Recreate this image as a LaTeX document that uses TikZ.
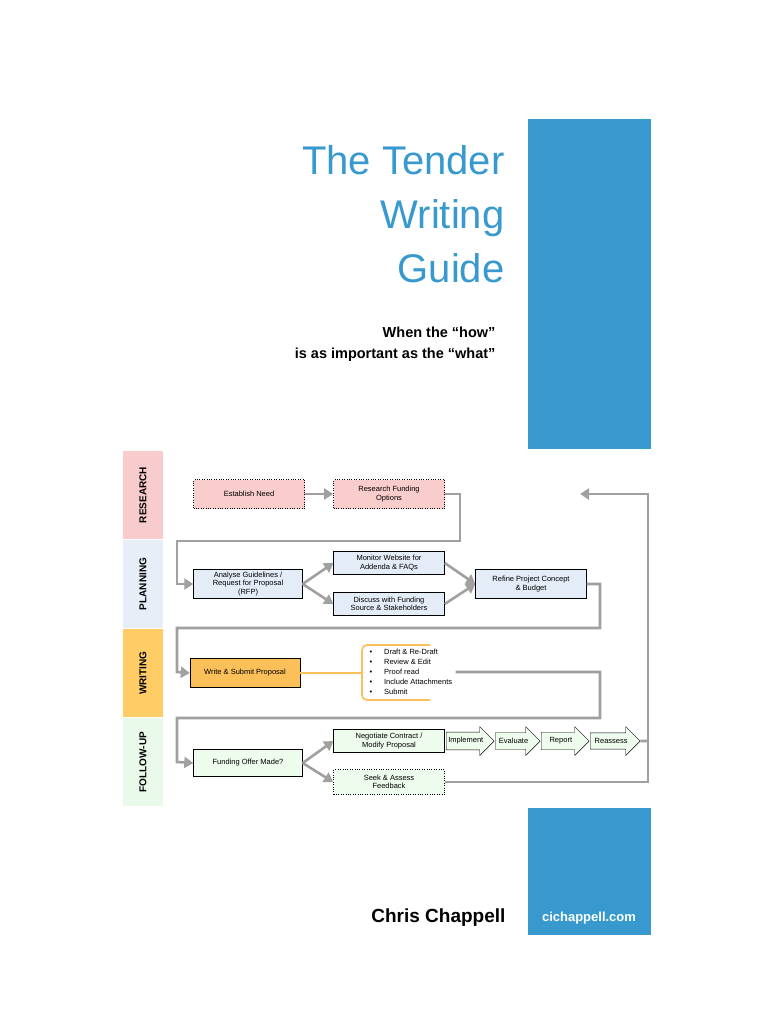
\documentclass[tikz,border=0pt]{standalone}
\usepackage{fontspec}
\setmainfont{Liberation Sans}
\usetikzlibrary{arrows.meta,shapes.arrows,positioning}
\definecolor{coverblue}{RGB}{55,153,206}
\definecolor{lanepink}{RGB}{248,204,204}
\definecolor{laneblue}{RGB}{231,238,248}
\definecolor{laneorange}{RGB}{255,204,102}
\definecolor{lanegreen}{RGB}{234,250,234}
\definecolor{boxpink}{RGB}{250,205,205}
\definecolor{boxblue}{RGB}{228,236,248}
\definecolor{boxorange}{RGB}{251,192,90}
\definecolor{boxgreen}{RGB}{238,252,238}
\definecolor{flowgray}{RGB}{160,160,160}
\tikzset{
  lane/.style = {minimum width=40pt, minimum height=88pt, inner sep=0pt},
  lanetext/.style = {rotate=90, font=\bfseries\fontsize{10}{11}\selectfont},
  stage/.style = {rectangle, draw, thin, align=center, inner sep=1pt,
    minimum width=111pt, minimum height=29pt, font=\fontsize{7.5}{8.5}\selectfont},
  small/.style = {stage, minimum height=23pt},
  dotbox/.style = {dotted, thick},
  chev/.style = {single arrow, draw, thin, fill=boxgreen, single arrow head extend=3pt,
    minimum height=48pt, minimum width=29pt, inner sep=1pt,
    font=\fontsize{7.5}{8.5}\selectfont},
  flow/.style = {draw=flowgray, line width=2.6pt, -{Triangle[length=9pt,width=11pt]}},
  line/.style = {draw=flowgray, line width=2.6pt}
}
\begin{document}
\begin{tikzpicture}[x=1pt,y=-1pt]
  \useasboundingbox (0,0) rectangle (768,1024);
  % cover
  \fill[coverblue] (528,119) rectangle (651,449);
  \fill[coverblue] (528,808) rectangle (651,935);
  \node[anchor=east, text=coverblue, align=right, font=\fontsize{40}{54}\selectfont]
    (title) at (508,214) {The Tender\\Writing\\Guide};
  \node[anchor=east, align=right, font=\bfseries\fontsize{14.5}{21}\selectfont]
    (subtitle) at (499,344) {When the “how”\\is as important as the “what”};
  \node[anchor=east, font=\bfseries\fontsize{19}{22}\selectfont] (author) at (509,918) {Chris Chappell};
  \node[text=white, font=\bfseries\fontsize{13}{15}\selectfont] (site) at (589,918) {cichappell.com};

  % lanes
  \node[lane, fill=lanepink] (research) at (143,495) {};
  \node[lanetext] at (research) {RESEARCH};
  \node[lane, fill=laneblue] (planning) at (143,584) {};
  \node[lanetext] at (planning) {PLANNING};
  \node[lane, fill=laneorange] (writing) at (143,673) {};
  \node[lanetext] at (writing) {WRITING};
  \node[lane, fill=lanegreen] (followup) at (143,762) {};
  \node[lanetext] at (followup) {FOLLOW-UP};

  % stages
  \node[stage, dotbox, fill=boxpink] (need) at (249,494) {Establish Need};
  \node[stage, dotbox, fill=boxpink] (options) at (389,494) {Research Funding\\Options};
  \node[stage, fill=boxblue, minimum width=109pt] (analyse) at (248,584) {Analyse Guidelines /\\Request for Proposal\\(RFP)};
  \node[small, fill=boxblue] (monitor) at (389,563) {Monitor Website for\\Addenda \& FAQs};
  \node[small, fill=boxblue] (discuss) at (389,604) {Discuss with Funding\\Source \& Stakeholders};
  \node[stage, fill=boxblue] (refine) at (531,584) {Refine Project Concept\\\& Budget};
  \node[stage, fill=boxorange, minimum width=110pt] (submit) at (245,673) {Write \& Submit Proposal};
  \node[align=left, anchor=west, font=\fontsize{7.5}{10}\selectfont] (tasks) at (366,672)
    {\textbullet\hspace{12pt}Draft \& Re-Draft\\
     \textbullet\hspace{12pt}Review \& Edit\\
     \textbullet\hspace{12pt}Proof read\\
     \textbullet\hspace{12pt}Include Attachments\\
     \textbullet\hspace{12pt}Submit};
  \node[stage, fill=boxgreen, minimum width=109pt, minimum height=27pt] (offer) at (248,763) {Funding Offer Made?};
  \node[small, fill=boxgreen] (negotiate) at (389,741) {Negotiate Contract /\\Modify Proposal};
  \node[small, dotbox, fill=boxgreen, minimum height=25pt] (seek) at (389,782) {Seek \& Assess\\Feedback};
  \node[chev, anchor=west] (implement) at (446,741) {Implement};
  \node[chev, anchor=west, minimum height=45pt] (evaluate) at (495,741) {Evaluate};
  \node[chev, anchor=west] (report) at (541,741) {Report};
  \node[chev, anchor=west, minimum height=50pt] (reassess) at (590,741) {Reassess};
  \coordinate (loop) at (580,494);

  % connectors
  \draw[flow] (need) -- (options);
  \draw[flow] (options.east) -| (460,541) -| (177,584) -- (analyse.west);
  \draw[flow] (analyse.east) -- (monitor.west);
  \draw[flow] (analyse.east) -- (discuss.west);
  \draw[flow] (monitor.east) -- (refine.west);
  \draw[flow] (discuss.east) -- (refine.west);
  \draw[flow] (refine.east) -| (600,628) -| (177,672) -- (submit.west);
  \draw[draw=boxorange, line width=1.6pt, rounded corners=5pt]
    (submit.east) -- (362,673) (430,645) -- (362,645) -- (362,700) -- (430,700);
  \draw[flow] (tasks.east) -| (600,718) -| (177,762) -- (offer.west);
  \draw[flow] (offer.east) -- (negotiate.west);
  \draw[flow] (offer.east) -- (seek.west);
  \draw[line] (reassess.east) -- (648,741);
  \draw[flow] (seek.east) -| (648,494) -- (loop);
\end{tikzpicture}
\end{document}
